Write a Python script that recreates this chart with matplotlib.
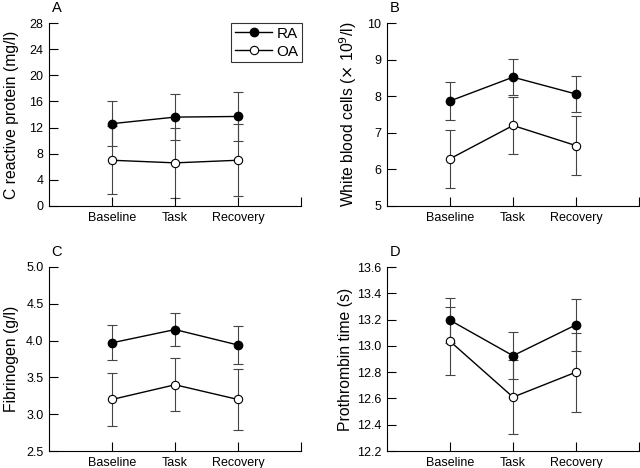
import numpy as np
import matplotlib.pyplot as plt

plt.rcParams['font.family'] = ['Liberation Sans', 'DejaVu Sans']
plt.rcParams['font.size'] = 9

phases = ["Baseline", "Task", "Recovery"]

# C reactive protein (mg/l)
crp_ra = [12.6, 13.6, 13.7]
crp_ra_err = [3.45, 3.55, 3.8]
crp_oa = [7.0, 6.6, 7.0]
crp_oa_err = [5.2, 5.3, 5.5]

# white blood cells (x10^9/l)
wbc_ra = [7.87, 8.52, 8.06]
wbc_ra_err = [0.51, 0.49, 0.49]
wbc_oa = [6.29, 7.2, 6.65]
wbc_oa_err = [0.8, 0.79, 0.8]

# fibrinogen (g/l)
fib_ra = [3.97, 4.15, 3.94]
fib_ra_err = [0.24, 0.23, 0.26]
fib_oa = [3.2, 3.4, 3.2]
fib_oa_err = [0.36, 0.36, 0.41]

# prothrombin time (s)
pt_ra = [13.195, 12.925, 13.16]
pt_ra_err = [0.17, 0.18, 0.2]
pt_oa = [13.035, 12.61, 12.8]
pt_oa_err = [0.26, 0.28, 0.3]

panels = [
    ("A", "C reactive protein (mg/l)", crp_ra, crp_ra_err, crp_oa, crp_oa_err,
     (0, 28), np.arange(0, 29, 4), "%d"),
    ("B", r"White blood cells ($\times$ 10$^9$/l)", wbc_ra, wbc_ra_err, wbc_oa, wbc_oa_err,
     (5, 10), np.arange(5, 11, 1), "%d"),
    ("C", "Fibrinogen (g/l)", fib_ra, fib_ra_err, fib_oa, fib_oa_err,
     (2.5, 5.0), np.arange(2.5, 5.01, 0.5), "%.1f"),
    ("D", "Prothrombin time (s)", pt_ra, pt_ra_err, pt_oa, pt_oa_err,
     (12.2, 13.6), np.arange(12.2, 13.61, 0.2), "%.1f"),
]

boxes = [
    [49/640, 1 - 206/468, 252/640, 183/468],
    [387/640, 1 - 206/468, 252/640, 183/468],
    [49/640, 1 - 451/468, 252/640, 184/468],
    [387/640, 1 - 451/468, 252/640, 184/468],
]
label_x = [-0.15, -0.155, -0.15, -0.163]

fig = plt.figure(figsize=(6.4, 4.68), dpi=100)
x = np.arange(1, 4)

for box, lx, (lab, ylab, ra, rae, oa, oae, ylim, yt, fmt) in zip(boxes, label_x, panels):
    ax = fig.add_axes(box)
    ax.errorbar(x, oa, yerr=oae, fmt='none', ecolor='#444444', elinewidth=0.8,
                capsize=3.3, capthick=0.8, zorder=1)
    ax.errorbar(x, ra, yerr=rae, fmt='none', ecolor='#444444', elinewidth=0.8,
                capsize=3.3, capthick=0.8, zorder=1)
    ax.plot(x, ra, '-o', color='black', lw=1, ms=6, mfc='black', mec='black',
            label='RA', zorder=3)
    ax.plot(x, oa, '-o', color='black', lw=1, ms=6, mfc='white', mec='black',
            mew=0.8, label='OA', zorder=3)
    ax.set_xlim(0, 4)
    ax.set_ylim(*ylim)
    ax.set_xticks([1, 2, 3, 4])
    ax.set_xticklabels(phases + [""])
    ax.set_yticks(yt)
    ax.set_yticklabels([fmt % v for v in yt])
    ax.tick_params(axis='y', direction='in', length=6.5, width=0.8, pad=4)
    ax.tick_params(axis='x', direction='in', length=6.5, width=0.8, pad=4)
    for s in ['top', 'right']:
        ax.spines[s].set_visible(False)
    for s in ['left', 'bottom']:
        ax.spines[s].set_linewidth(0.8)
    ax.set_ylabel(ylab, fontsize=11.3, va='center')
    ax.yaxis.set_label_coords(lx, 0.5)
    ax.text(0.01, 1.045, lab, transform=ax.transAxes, fontsize=10.5, va='bottom')
    if lab == "A":
        ax.legend(loc='upper right', bbox_to_anchor=(1.005, 1.0), borderaxespad=0,
                  frameon=True, fancybox=False, edgecolor='black', fontsize=11,
                  handlelength=2.4, borderpad=0.25, labelspacing=0.25,
                  handletextpad=0.3).get_frame().set_linewidth(0.8)

fig.savefig("out.png", dpi=100)
